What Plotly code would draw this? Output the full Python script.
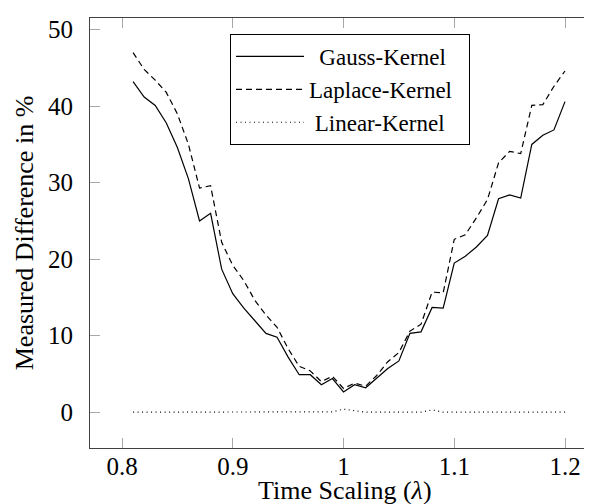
import plotly.graph_objects as go

# ---- data ----
time_scaling = [0.81, 0.82, 0.83, 0.84, 0.85, 0.86, 0.87, 0.88, 0.89, 0.90,
                0.91, 0.92, 0.93, 0.94, 0.95, 0.96, 0.97, 0.98, 0.99, 1.00,
                1.01, 1.02, 1.03, 1.04, 1.05, 1.06, 1.07, 1.08, 1.09, 1.10,
                1.11, 1.12, 1.13, 1.14, 1.15, 1.16, 1.17, 1.18, 1.19, 1.20]

gauss_kernel = [43.2, 41.2, 40.1, 37.8, 34.6, 30.5, 25.0, 26.0, 18.7, 15.5,
                13.6, 12.0, 10.3, 9.8, 7.2, 4.9, 4.9, 3.6, 4.4, 2.65,
                3.6, 3.2, 4.5, 5.7, 6.7, 10.3, 10.5, 13.7, 13.6, 19.5,
                20.4, 21.6, 23.1, 27.9, 28.4, 28.0, 35.0, 36.2, 36.9, 40.6]

laplace_kernel = [47.0, 44.8, 43.4, 41.8, 39.0, 35.0, 29.3, 29.6, 22.2, 19.2,
                  17.2, 14.6, 12.7, 11.1, 8.3, 6.0, 5.4, 4.0, 4.7, 3.1,
                  3.8, 3.4, 4.8, 6.6, 7.8, 10.6, 11.5, 15.7, 15.6, 22.6,
                  23.2, 25.4, 27.8, 32.6, 34.1, 33.8, 40.1, 40.2, 42.6, 44.6]

linear_kernel = [0.0, 0.0, 0.0, 0.0, 0.0, 0.0, 0.0, 0.0, 0.0, 0.0,
                 0.0, 0.0, 0.0, 0.0, 0.0, 0.0, 0.0, 0.0, 0.05, 0.4,
                 0.15, 0.0, 0.0, 0.0, 0.0, 0.0, 0.0, 0.3, 0.0, 0.0,
                 0.0, 0.0, 0.0, 0.0, 0.0, 0.0, 0.0, 0.0, 0.0, 0.0]

series_names = ["Gauss-Kernel", "Laplace-Kernel", "Linear-Kernel"]
x_ticks = [0.8, 0.9, 1.0, 1.1, 1.2]
x_tick_labels = ["0.8", "0.9", "1", "1.1", "1.2"]
y_ticks = [0, 10, 20, 30, 40, 50]
y_tick_labels = ["0", "10", "20", "30", "40", "50"]
x_title = "Time Scaling (<i>λ</i>)"
y_title = "Measured Difference in %"

FONT = "Liberation Serif"
X_RANGE = [0.7711, 1.2316]
Y_RANGE = [-4.68, 51.53]
NBSP = "\u00a0"
THIN = "\u2009"

fig = go.Figure()
fig.add_trace(go.Scatter(x=time_scaling, y=gauss_kernel, mode="lines",
                         name=NBSP + THIN + series_names[0], legendgroup="g1",
                         line=dict(color="black", width=1.2)))
fig.add_trace(go.Scatter(x=time_scaling, y=laplace_kernel, mode="lines",
                         name=series_names[1] + NBSP + NBSP, legendgroup="g2",
                         line=dict(color="black", width=1.2, dash="6px,4px")))
fig.add_trace(go.Scatter(x=time_scaling, y=linear_kernel, mode="lines",
                         name=NBSP + series_names[2], legendgroup="g3",
                         line=dict(color="black", width=1.2, dash="1px,3.5px")))
# invisible helper trace so the right-hand tick axis is drawn
fig.add_trace(go.Scatter(x=time_scaling, y=linear_kernel, mode="lines",
                         yaxis="y2", showlegend=False, hoverinfo="skip",
                         line=dict(color="rgba(0,0,0,0)", width=0)))

fig.update_layout(
    width=592, height=504,
    margin=dict(l=82, r=0, t=10, b=64),
    paper_bgcolor="white", plot_bgcolor="white",
    font=dict(family=FONT, size=25, color="black"),
    showlegend=True,
    legend=dict(x=0.2745, y=0.9628, xanchor="left", yanchor="top",
                bordercolor="black", borderwidth=1, bgcolor="white",
                font=dict(family=FONT, size=23), traceorder="grouped",
                tracegroupgap=0, itemwidth=68),
    xaxis=dict(range=X_RANGE, tickvals=x_ticks, ticktext=x_tick_labels,
               ticks="inside", ticklen=10, tickwidth=1, tickcolor="#a8a8a8",
               showline=True, linecolor="#404040", linewidth=1.2,
               mirror="ticks", showgrid=False, zeroline=False,
               ticklabelstandoff=-4, tickfont=dict(family=FONT, size=25)),
    yaxis=dict(range=Y_RANGE, tickvals=y_ticks, ticktext=y_tick_labels,
               ticks="inside", ticklen=10, tickwidth=1, tickcolor="#a8a8a8",
               showline=True, linecolor="#404040", linewidth=1.2,
               showgrid=False, zeroline=False, ticklabelstandoff=11,
               tickfont=dict(family=FONT, size=25),
               title=dict(text=y_title, standoff=6,
                          font=dict(family=FONT, size=26))),
    yaxis2=dict(range=Y_RANGE, tickvals=y_ticks, overlaying="y", side="right",
                anchor="x", ticks="inside", ticklen=3, tickwidth=1,
                tickcolor="#a8a8a8", showticklabels=False, showline=False,
                showgrid=False, zeroline=False),
    annotations=[dict(text=x_title, xref="paper", yref="paper", x=0.5, y=0,
                      xanchor="center", yanchor="bottom", yshift=-59,
                      showarrow=False, font=dict(family=FONT, size=26))],
)

fig.write_html("out.html")
